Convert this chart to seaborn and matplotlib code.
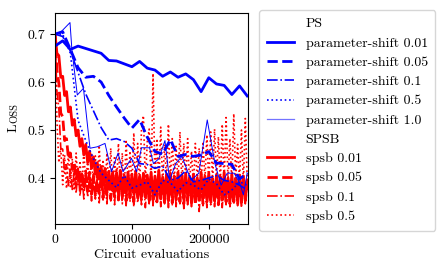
import numpy as np
import pandas as pd
import matplotlib
matplotlib.use("Agg")
import matplotlib.pyplot as plt
import seaborn as sns
from matplotlib.lines import Line2D

plt.rcParams.update({
    "font.family": ["cmr10", "DejaVu Serif"],
    "axes.formatter.use_mathtext": True,
    "font.size": 10,
    "axes.unicode_minus": False,
})

# ---------------- data ----------------
ps_x = [0, 10000, 20000, 30000, 40000, 50000, 60000, 70000, 80000, 90000,
        100000, 110000, 120000, 130000, 140000, 150000, 160000, 170000, 180000,
        190000, 200000, 210000, 220000, 230000, 240000, 250000]

ps_001 = [0.675, 0.686, 0.668, 0.675, 0.670, 0.665, 0.660, 0.645, 0.644, 0.638,
          0.632, 0.643, 0.629, 0.625, 0.612, 0.621, 0.610, 0.617, 0.605, 0.580,
          0.609, 0.596, 0.593, 0.574, 0.592, 0.571]
ps_005 = [0.700, 0.705, 0.668, 0.630, 0.610, 0.612, 0.600, 0.572, 0.548, 0.525,
          0.504, 0.522, 0.485, 0.455, 0.450, 0.480, 0.445, 0.449, 0.445, 0.448,
          0.455, 0.431, 0.430, 0.428, 0.398, 0.410]
ps_01 = [0.700, 0.695, 0.665, 0.620, 0.575, 0.540, 0.505, 0.479, 0.482, 0.476,
         0.462, 0.430, 0.428, 0.420, 0.425, 0.395, 0.400, 0.415, 0.392, 0.395,
         0.400, 0.405, 0.395, 0.392, 0.385, 0.375]
ps_05 = [0.700, 0.700, 0.660, 0.520, 0.478, 0.440, 0.410, 0.395, 0.380, 0.405,
         0.379, 0.385, 0.392, 0.365, 0.395, 0.390, 0.372, 0.390, 0.385, 0.375,
         0.398, 0.388, 0.365, 0.375, 0.392, 0.385]

ps_10_x = [0, 8000, 19500, 22000, 29000, 37000, 45500, 55000, 65000, 73500,
           82000, 88500, 99500, 106000, 112500, 123000, 128000, 135000, 143000,
           149000, 157000, 165000, 177000, 187000, 198000, 208000, 216000,
           224000, 233000, 240000, 245000, 250000]
ps_10 = [0.700, 0.705, 0.724, 0.667, 0.573, 0.587, 0.462, 0.465, 0.472, 0.413,
         0.452, 0.413, 0.441, 0.413, 0.463, 0.463, 0.430, 0.440, 0.478, 0.395,
         0.430, 0.445, 0.395, 0.410, 0.521, 0.430, 0.385, 0.410, 0.410, 0.390,
         0.365, 0.410]

spsb_001 = [0.700, 0.660, 0.655, 0.610, 0.612, 0.572, 0.580, 0.538, 0.548, 0.510,
            0.522, 0.488, 0.500, 0.466, 0.482, 0.448, 0.470, 0.432, 0.456, 0.420,
            0.444, 0.408, 0.432, 0.398, 0.424, 0.390, 0.420, 0.384, 0.414, 0.380,
            0.412, 0.374, 0.410, 0.372, 0.416, 0.368, 0.406, 0.370, 0.412, 0.364,
            0.408, 0.366, 0.414, 0.362, 0.404, 0.368, 0.410, 0.360, 0.406, 0.366,
            0.412, 0.358, 0.404, 0.364, 0.416, 0.360, 0.402, 0.366, 0.408, 0.358,
            0.410, 0.362, 0.400, 0.356, 0.412, 0.364, 0.404, 0.358, 0.410, 0.362,
            0.402, 0.356, 0.408, 0.360, 0.400, 0.354, 0.412, 0.362, 0.404, 0.356,
            0.410, 0.360, 0.398, 0.354, 0.406, 0.362, 0.402, 0.356, 0.412, 0.360,
            0.400, 0.354, 0.408, 0.358, 0.398, 0.362, 0.406, 0.352, 0.404, 0.360,
            0.396]
spsb_005 = [0.702, 0.625, 0.598, 0.535, 0.528, 0.478, 0.482, 0.440, 0.452, 0.418,
            0.432, 0.398, 0.420, 0.386, 0.414, 0.378, 0.410, 0.372, 0.412, 0.366,
            0.404, 0.362, 0.410, 0.368, 0.402, 0.358, 0.414, 0.364, 0.400, 0.356,
            0.408, 0.360, 0.398, 0.354, 0.410, 0.362, 0.396, 0.352, 0.404, 0.358,
            0.400, 0.350, 0.408, 0.356, 0.396, 0.352, 0.406, 0.360, 0.398, 0.348,
            0.404, 0.354, 0.394, 0.350, 0.408, 0.356, 0.398, 0.346, 0.402, 0.352,
            0.396, 0.348, 0.404, 0.354, 0.392, 0.350, 0.406, 0.346, 0.398, 0.352,
            0.394, 0.348, 0.402, 0.344, 0.396, 0.352, 0.390, 0.346, 0.400, 0.350,
            0.392, 0.346, 0.398, 0.352, 0.394, 0.344, 0.402, 0.348, 0.390, 0.350,
            0.396, 0.346, 0.392, 0.350, 0.400, 0.344, 0.394, 0.348, 0.398, 0.352,
            0.390]
spsb_01 = [0.695, 0.580, 0.545, 0.462, 0.460, 0.410, 0.428, 0.384, 0.418, 0.376,
           0.414, 0.368, 0.420, 0.362, 0.408, 0.356, 0.416, 0.360, 0.404, 0.352,
           0.412, 0.356, 0.400, 0.348, 0.414, 0.354, 0.398, 0.346, 0.410, 0.352,
           0.396, 0.344, 0.418, 0.350, 0.400, 0.346, 0.392, 0.342, 0.408, 0.350,
           0.398, 0.340, 0.404, 0.348, 0.394, 0.344, 0.410, 0.338, 0.396, 0.346,
           0.402, 0.342, 0.392, 0.348, 0.406, 0.340, 0.396, 0.346, 0.400, 0.338,
           0.390, 0.344, 0.404, 0.340, 0.394, 0.346, 0.400, 0.336, 0.392, 0.344,
           0.398, 0.340, 0.388, 0.346, 0.402, 0.330, 0.394, 0.342, 0.396, 0.338,
           0.390, 0.344, 0.400, 0.340, 0.392, 0.346, 0.386, 0.338, 0.398, 0.344,
           0.392, 0.340, 0.396, 0.346, 0.388, 0.342, 0.400, 0.338, 0.394, 0.346,
           0.385]
spsb_05 = [0.705, 0.520, 0.432, 0.462, 0.386, 0.448, 0.378, 0.456, 0.382, 0.440,
           0.374, 0.452, 0.386, 0.436, 0.372, 0.460, 0.380, 0.442, 0.368, 0.452,
           0.378, 0.446, 0.372, 0.468, 0.380, 0.438, 0.366, 0.452, 0.376, 0.462,
           0.370, 0.446, 0.380, 0.472, 0.372, 0.452, 0.368, 0.480, 0.376, 0.456,
           0.384, 0.494, 0.378, 0.472, 0.380, 0.502, 0.530, 0.390, 0.476, 0.502,
           0.386, 0.618, 0.394, 0.482, 0.390, 0.506, 0.384, 0.470, 0.396, 0.512,
           0.388, 0.482, 0.392, 0.466, 0.385, 0.496, 0.390, 0.472, 0.395, 0.482,
           0.388, 0.456, 0.380, 0.472, 0.392, 0.462, 0.385, 0.476, 0.395, 0.490,
           0.385, 0.496, 0.390, 0.502, 0.395, 0.486, 0.388, 0.512, 0.392, 0.526,
           0.395, 0.482, 0.390, 0.534, 0.398, 0.470, 0.392, 0.500, 0.388, 0.524,
           0.395]

x_ticks = [0, 100000, 200000]
y_ticks = [0.4, 0.5, 0.6, 0.7]

# ---------------- figure ----------------
fig = plt.figure(figsize=(4.42, 2.74), dpi=100)
ax = fig.add_axes([55 / 442, 1 - 224 / 274, 193 / 442, 211 / 274])

def draw(x, y, color, ls, lw):
    df = pd.DataFrame({"x": x, "y": y})
    sns.lineplot(data=df, x="x", y="y", ax=ax, color=color, linestyle=ls,
                 linewidth=lw, estimator=None, sort=False, legend=False)

red_specs = [
    (spsb_05, ":", 1.2),
    (spsb_01, "-.", 1.2),
    (spsb_005, "--", 2.0),
    (spsb_001, "-", 2.0),
]
for vals, ls, lw in red_specs:
    xs = np.linspace(0, 250000, len(vals))
    draw(xs, vals, "red", ls, lw)

blue_specs = [
    (ps_x, ps_001, "-", 2.0),
    (ps_x, ps_005, "--", 2.0),
    (ps_x, ps_01, "-.", 1.2),
    (ps_x, ps_05, ":", 1.2),
    (ps_10_x, ps_10, "-", 0.7),
]
for xs, vals, ls, lw in blue_specs:
    draw(xs, vals, "blue", ls, lw)

ax.set_xlim(0, 251000)
ax.set_ylim(0.304, 0.744)
ax.set_xticks(x_ticks)
ax.set_yticks(y_ticks)
ax.set_xticklabels([str(v) for v in x_ticks])
ax.set_yticklabels([f"{v:.1f}" for v in y_ticks])
ax.set_xlabel("Circuit evaluations", labelpad=2)
ax.set_ylabel("")

# small-caps "Loss" label
fig.text(17 / 442, 1 - 132 / 274, "L", rotation=90, rotation_mode="anchor",
         ha="left", va="baseline", fontsize=10)
fig.text(17 / 442, 1 - 123 / 274, "OSS", rotation=90, rotation_mode="anchor",
         ha="left", va="baseline", fontsize=7.6)

# legend
none = Line2D([], [], color="none")
handles = [none,
           Line2D([], [], color="blue", ls="-", lw=2.0),
           Line2D([], [], color="blue", ls="--", lw=2.0),
           Line2D([], [], color="blue", ls="-.", lw=1.2),
           Line2D([], [], color="blue", ls=":", lw=1.2),
           Line2D([], [], color="blue", ls="-", lw=0.9, alpha=0.55),
           none,
           Line2D([], [], color="red", ls="-", lw=2.0),
           Line2D([], [], color="red", ls="--", lw=2.0),
           Line2D([], [], color="red", ls="-.", lw=1.2),
           Line2D([], [], color="red", ls=":", lw=1.2)]
labels = ["PS", "parameter-shift 0.01", "parameter-shift 0.05",
          "parameter-shift 0.1", "parameter-shift 0.5", "parameter-shift 1.0",
          "SPSB", "spsb 0.01", "spsb 0.05", "spsb 0.1", "spsb 0.5"]
fig.legend(handles, labels, loc="upper left",
           bbox_to_anchor=(259 / 442, 1 - 10 / 274),
           bbox_transform=fig.transFigure, borderaxespad=0,
           labelspacing=0.47, borderpad=0.55, handlelength=2.0,
           handletextpad=0.8, fontsize=10)

fig.savefig("out.png", dpi=100)
